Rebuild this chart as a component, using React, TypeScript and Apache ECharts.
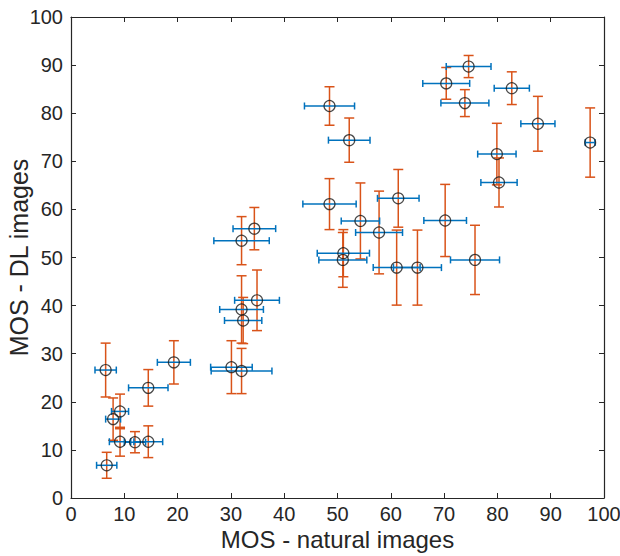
import React, { useEffect, useRef } from "react";
import * as echarts from "echarts";

// MOS values for natural images (x) and DL images (y), with error half-widths
const natural = [6.7, 6.5, 7.9, 9.2, 9.2, 12.0, 14.5, 14.5, 19.3, 30.1, 32.0, 32.0, 32.3, 34.9, 32.0, 34.4, 48.5, 48.5, 52.2, 74.6, 70.4, 73.9, 82.7, 87.6, 97.4, 79.9, 80.3, 61.4, 54.3, 57.8, 70.2, 51.1, 51.0, 61.1, 65.0, 75.8];
const dl = [6.8, 26.6, 16.4, 18.0, 11.7, 11.6, 11.7, 22.9, 28.2, 27.2, 26.4, 39.2, 36.9, 41.1, 53.5, 56.0, 81.5, 61.1, 74.4, 89.7, 86.2, 82.1, 85.2, 77.8, 73.9, 71.5, 65.6, 62.3, 57.6, 55.2, 57.7, 50.9, 49.5, 47.9, 47.9, 49.5];
const naturalErr = [1.9, 2.0, 1.4, 1.6, 2.0, 2.0, 2.7, 3.7, 3.1, 3.9, 5.7, 4.1, 3.5, 4.2, 5.2, 4.0, 4.7, 5.0, 3.9, 4.2, 4.4, 4.5, 3.3, 3.2, 0.9, 3.6, 3.4, 3.9, 3.6, 4.4, 4.0, 4.9, 4.5, 4.4, 4.5, 4.6];
const dlErr = [2.7, 5.6, 4.4, 3.6, 3.0, 2.2, 3.3, 3.8, 4.5, 5.5, 4.7, 7.0, 4.8, 6.3, 5.0, 4.4, 4.0, 5.3, 4.6, 2.3, 3.3, 2.8, 3.4, 5.7, 7.2, 6.4, 5.1, 6.0, 7.9, 8.6, 7.5, 4.9, 5.7, 7.8, 7.8, 7.2];

const xTicks = [0, 10, 20, 30, 40, 50, 60, 70, 80, 90, 100];
const yTicks = [0, 10, 20, 30, 40, 50, 60, 70, 80, 90, 100];

const BLUE = "#0072BD";
const ORANGE = "#D95319";
const AXIS = "#262626";
const FONT = "Liberation Sans, Arial, sans-serif";

export default function App() {
  const ref = useRef<HTMLDivElement>(null);
  useEffect(() => {
    document.body.style.margin = "0";
    if (!ref.current) return;
    const chart = echarts.init(ref.current, undefined, { renderer: "svg" });
    const rows = natural.map((x, i) => [x, dl[i], naturalErr[i], dlErr[i]]);

    const axisCommon = {
      type: "value" as const,
      min: xTicks[0],
      max: xTicks[xTicks.length - 1],
      interval: 10,
      splitLine: { show: false },
      axisLine: { show: true, onZero: false, lineStyle: { color: AXIS, width: 1.2 } },
      axisTick: { show: true, inside: true, length: 5, lineStyle: { color: AXIS, width: 1 } },
    };

    chart.setOption({
      animation: false,
      backgroundColor: "#ffffff",
      grid: { left: 71, right: 16, top: 17, bottom: 58, containLabel: false, outerBoundsMode: "none" },
      xAxis: [
        {
          ...axisCommon,
          position: "bottom",
          name: "MOS - natural images",
          nameLocation: "middle",
          nameGap: 29,
          nameMoveOverlap: false,
          nameTextStyle: { fontFamily: FONT, fontSize: 24, color: AXIS },
          axisLabel: { fontFamily: FONT, fontSize: 20, color: AXIS, margin: 6 },
        },
        {
          ...axisCommon,
          position: "top",
          axisLabel: { show: false },
        },
      ],
      yAxis: [
        {
          ...axisCommon,
          min: yTicks[0],
          max: yTicks[yTicks.length - 1],
          position: "left",
          name: "MOS - DL images",
          nameLocation: "middle",
          nameGap: 40,
          nameMoveOverlap: false,
          nameTextStyle: { fontFamily: FONT, fontSize: 25, color: AXIS },
          axisLabel: { fontFamily: FONT, fontSize: 20, color: AXIS, margin: 8 },
        },
        {
          ...axisCommon,
          min: yTicks[0],
          max: yTicks[yTicks.length - 1],
          position: "right",
          axisLabel: { show: false },
        },
      ],
      series: [
        {
          type: "custom",
          name: "DL error",
          xAxisIndex: 0,
          yAxisIndex: 0,
          data: rows,
          encode: { x: 0, y: 1 },
          renderItem: (params: any, api: any) => {
            const x = api.value(0);
            const y = api.value(1);
            const e = api.value(3);
            const lo = api.coord([x, y - e]);
            const hi = api.coord([x, y + e]);
            const cw = 5;
            const style = { stroke: ORANGE, lineWidth: 1.5 };
            return {
              type: "group",
              children: [
                { type: "line", shape: { x1: lo[0], y1: lo[1], x2: hi[0], y2: hi[1] }, style },
                { type: "line", shape: { x1: lo[0] - cw, y1: lo[1], x2: lo[0] + cw, y2: lo[1] }, style },
                { type: "line", shape: { x1: hi[0] - cw, y1: hi[1], x2: hi[0] + cw, y2: hi[1] }, style },
              ],
            };
          },
          z: 2,
        },
        {
          type: "custom",
          name: "natural error",
          xAxisIndex: 0,
          yAxisIndex: 0,
          data: rows,
          encode: { x: 0, y: 1 },
          renderItem: (params: any, api: any) => {
            const x = api.value(0);
            const y = api.value(1);
            const e = api.value(2);
            const lo = api.coord([x - e, y]);
            const hi = api.coord([x + e, y]);
            const ch = 3.5;
            const style = { stroke: BLUE, lineWidth: 1.5 };
            return {
              type: "group",
              children: [
                { type: "line", shape: { x1: lo[0], y1: lo[1], x2: hi[0], y2: hi[1] }, style },
                { type: "line", shape: { x1: lo[0], y1: lo[1] - ch, x2: lo[0], y2: lo[1] + ch }, style },
                { type: "line", shape: { x1: hi[0], y1: hi[1] - ch, x2: hi[0], y2: hi[1] + ch }, style },
              ],
            };
          },
          z: 3,
        },
        {
          type: "scatter",
          name: "MOS",
          xAxisIndex: 0,
          yAxisIndex: 0,
          data: rows.map((r) => [r[0], r[1]]),
          symbol: "circle",
          symbolSize: 11,
          itemStyle: { color: "rgba(0,0,0,0)", borderColor: "#1a1a1a", borderWidth: 1.2 },
          z: 4,
        },
      ],
    });
    return () => chart.dispose();
  }, []);
  return <div ref={ref} style={{ width: 620, height: 556 }} />;
}
